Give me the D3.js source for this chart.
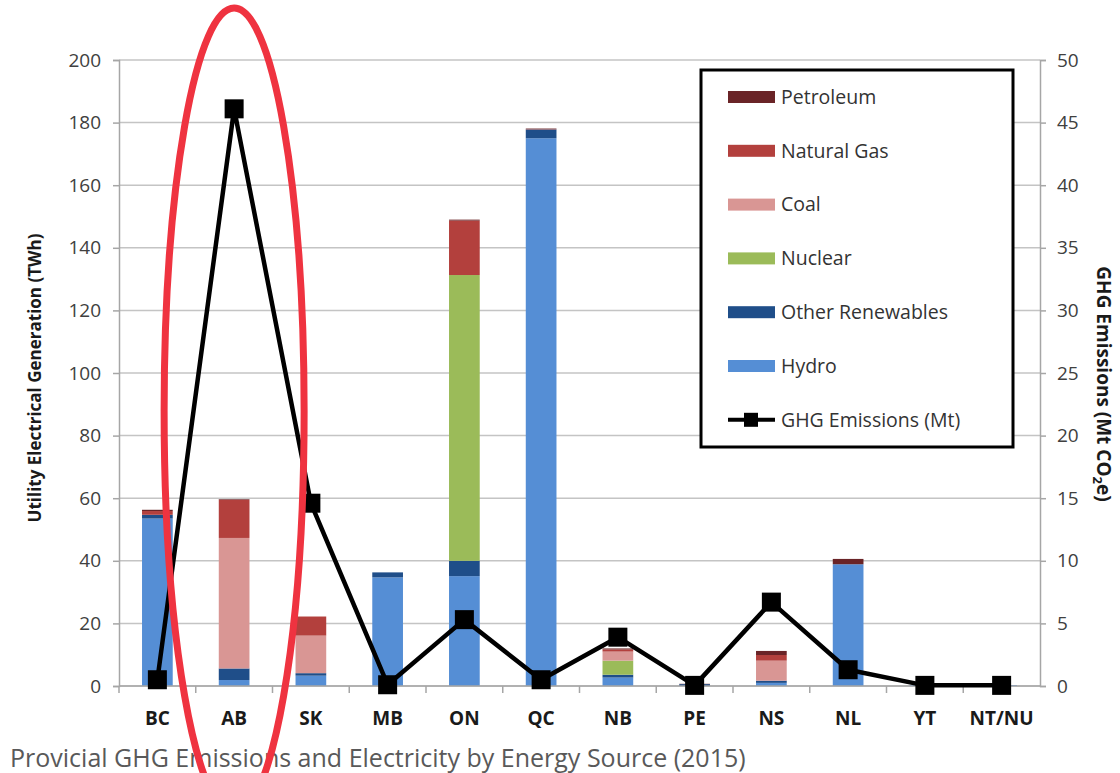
<!DOCTYPE html>
<html>
<head>
<meta charset="utf-8">
<script src="https://cdn.jsdelivr.net/npm/d3@7"></script>
<style>
  body { margin: 0; background: #fff; }
  svg { display: block; }
</style>
</head>
<body>
<div id="chart"></div>
<script>
// provinces and generation by source (TWh), emissions (Mt CO2e)
var provinces = ['BC', 'AB', 'SK', 'MB', 'ON', 'QC', 'NB', 'PE', 'NS', 'NL', 'YT', 'NT/NU'];
var hydro = [53.5, 1.9, 3.3, 34.7, 35.1, 175.0, 2.7, 0, 1.0, 38.9, 0.3, 0.3];
var otherRenewables = [1.2, 3.7, 0.8, 1.6, 4.9, 2.8, 0.9, 0.6, 0.7, 0, 0, 0];
var nuclear = [0, 0, 0, 0, 91.3, 0, 4.5, 0, 0, 0, 0, 0];
var coal = [0, 41.7, 12.0, 0, 0, 0, 2.9, 0, 6.4, 0, 0, 0];
var naturalGas = [1.2, 12.2, 6.1, 0, 17.4, 0.1, 0.7, 0, 1.8, 0, 0, 0];
var petroleum = [0.4, 0.2, 0, 0, 0.3, 0.2, 0.3, 0.1, 1.3, 1.7, 0, 0];
var ghgEmissions = [0.5, 46.1, 14.6, 0.1, 5.3, 0.5, 3.9, 0.05, 6.7, 1.3, 0.05, 0.05];

var leftTicks = [0, 20, 40, 60, 80, 100, 120, 140, 160, 180, 200];
var rightTicks = [0, 5, 10, 15, 20, 25, 30, 35, 40, 45, 50];

var sources = [
    {key: 'hydro', name: 'Hydro', values: hydro, color: '#558ed5'},
    {key: 'other', name: 'Other Renewables', values: otherRenewables, color: '#1f4e89'},
    {key: 'nuclear', name: 'Nuclear', values: nuclear, color: '#9bbb59'},
    {key: 'coal', name: 'Coal', values: coal, color: '#d99694'},
    {key: 'gas', name: 'Natural Gas', values: naturalGas, color: '#b3403d'},
    {key: 'petroleum', name: 'Petroleum', values: petroleum, color: '#6a2427'}
];

var width = 1120, height = 773;
var margin = {top: 60, right: 80, bottom: 87, left: 119};
var plotW = width - margin.left - margin.right;
var plotH = height - margin.top - margin.bottom;

var svg = d3.select('#chart').append('svg')
    .attr('width', width)
    .attr('height', height);

var g = svg.append('g')
    .attr('transform', 'translate(' + margin.left + ',' + margin.top + ')');

var x = d3.scaleBand().domain(provinces).range([0, plotW]).padding(0);
var y = d3.scaleLinear().domain([0, 200]).range([plotH, 0]);
var y2 = d3.scaleLinear().domain([0, 50]).range([plotH, 0]);
var barW = x.bandwidth() * 0.4;

// gridlines
g.append('g')
    .selectAll('line')
    .data(leftTicks)
    .join('line')
    .attr('x1', 0)
    .attr('x2', plotW)
    .attr('y1', function (d) { return y(d); })
    .attr('y2', function (d) { return y(d); })
    .attr('stroke', '#c4c4c4')
    .attr('stroke-width', 1.5);

// stacked bars
var table = provinces.map(function (p, i) {
    var row = {province: p};
    sources.forEach(function (s) { row[s.key] = s.values[i]; });
    return row;
});
var stacked = d3.stack().keys(sources.map(function (s) { return s.key; }))(table);

g.append('g')
    .selectAll('g')
    .data(stacked)
    .join('g')
    .attr('fill', function (d, i) { return sources[i].color; })
    .selectAll('rect')
    .data(function (d) { return d; })
    .join('rect')
    .attr('x', function (d) { return x(d.data.province) + (x.bandwidth() - barW) / 2; })
    .attr('width', barW)
    .attr('y', function (d) { return y(d[1]); })
    .attr('height', function (d) { return y(d[0]) - y(d[1]); });

// left axis
var leftAxis = g.append('g')
    .call(d3.axisLeft(y).tickValues(leftTicks).tickSize(6).tickPadding(12));
leftAxis.select('.domain').attr('stroke', '#a6a6a6').attr('stroke-width', 1.5);
leftAxis.selectAll('.tick line').attr('stroke', '#a6a6a6').attr('stroke-width', 1.5);
leftAxis.selectAll('.tick text')
    .attr('font-family', 'Open Sans, sans-serif')
    .attr('font-size', 19)
    .attr('fill', '#404040');

// right axis
var rightAxis = g.append('g')
    .attr('transform', 'translate(' + plotW + ',0)')
    .call(d3.axisRight(y2).tickValues(rightTicks).tickSize(6).tickPadding(11));
rightAxis.select('.domain').attr('stroke', '#a6a6a6').attr('stroke-width', 1.5);
rightAxis.selectAll('.tick line').attr('stroke', '#a6a6a6').attr('stroke-width', 1.5);
rightAxis.selectAll('.tick text')
    .attr('font-family', 'Open Sans, sans-serif')
    .attr('font-size', 19)
    .attr('fill', '#404040');

// category axis: ticks between categories
var bottom = g.append('g').attr('transform', 'translate(0,' + plotH + ')');
bottom.append('line')
    .attr('x1', 0).attr('x2', plotW)
    .attr('stroke', '#a6a6a6').attr('stroke-width', 1.5);
bottom.selectAll('line.sep')
    .data(provinces)
    .join('line')
    .attr('class', 'sep')
    .attr('x1', function (d) { return x(d); })
    .attr('x2', function (d) { return x(d); })
    .attr('y1', 0).attr('y2', 7)
    .attr('stroke', '#a6a6a6').attr('stroke-width', 1.5);
bottom.selectAll('text')
    .data(provinces)
    .join('text')
    .attr('x', function (d) { return x(d) + x.bandwidth() / 2; })
    .attr('y', 39)
    .attr('text-anchor', 'middle')
    .attr('font-family', 'Open Sans, sans-serif')
    .attr('font-weight', 'bold')
    .attr('font-size', 19)
    .attr('fill', '#1a1a1a')
    .text(function (d) { return d; });

// GHG line
var line = d3.line()
    .x(function (d, i) { return x(provinces[i]) + x.bandwidth() / 2; })
    .y(function (d) { return y2(d); });

g.append('path')
    .datum(ghgEmissions)
    .attr('fill', 'none')
    .attr('stroke', '#000')
    .attr('stroke-width', 4.5)
    .attr('stroke-linejoin', 'round')
    .attr('d', line);

var mk = 19;
g.append('g')
    .selectAll('rect')
    .data(ghgEmissions)
    .join('rect')
    .attr('x', function (d, i) { return x(provinces[i]) + x.bandwidth() / 2 - mk / 2; })
    .attr('y', function (d) { return y2(d) - mk / 2; })
    .attr('width', mk)
    .attr('height', mk)
    .attr('fill', '#000');

// axis titles
svg.append('text')
    .attr('transform', 'translate(41,' + (margin.top + plotH / 2 + 5) + ') rotate(-90)')
    .attr('text-anchor', 'middle')
    .attr('font-family', 'Open Sans, sans-serif')
    .attr('font-weight', 'bold')
    .attr('font-size', 17)
    .attr('fill', '#1a1a1a')
    .text('Utility Electrical Generation (TWh)');

var rt = svg.append('text')
    .attr('transform', 'translate(1097,' + 384 + ') rotate(90)')
    .attr('text-anchor', 'middle')
    .attr('font-family', 'Open Sans, sans-serif')
    .attr('font-weight', 'bold')
    .attr('font-size', 19)
    .attr('fill', '#1a1a1a');
rt.append('tspan').text('GHG Emissions (Mt CO');
rt.append('tspan').attr('font-size', 13).attr('dy', 4).text('2');
rt.append('tspan').attr('dy', -4).text('e)');

// legend
var legend = svg.append('g').attr('transform', 'translate(701,70)');
legend.append('rect')
    .attr('width', 312)
    .attr('height', 377)
    .attr('fill', '#fff')
    .attr('stroke', '#000')
    .attr('stroke-width', 3);

var legendItems = sources.slice().reverse();
var step = 53.8;
legendItems.forEach(function (s, i) {
    var cy = 27 + i * step;
    legend.append('rect')
        .attr('x', 27).attr('y', cy - 6)
        .attr('width', 47).attr('height', 12)
        .attr('fill', s.color);
    legend.append('text')
        .attr('x', 80).attr('y', cy)
        .attr('dy', '0.35em')
        .attr('font-family', 'Open Sans, sans-serif')
        .attr('font-size', 19.5)
        .attr('fill', '#333')
        .text(s.name);
});
var ly = 27 + legendItems.length * step;
legend.append('line')
    .attr('x1', 27).attr('x2', 74)
    .attr('y1', ly).attr('y2', ly)
    .attr('stroke', '#000').attr('stroke-width', 4);
legend.append('rect')
    .attr('x', 50 - 7).attr('y', ly - 7)
    .attr('width', 14).attr('height', 14)
    .attr('fill', '#000');
legend.append('text')
    .attr('x', 80).attr('y', ly)
    .attr('dy', '0.35em')
    .attr('font-family', 'Open Sans, sans-serif')
    .attr('font-size', 19.5)
    .attr('fill', '#333')
    .text('GHG Emissions (Mt)');

// caption
svg.append('text')
    .attr('x', 10).attr('y', 767)
    .attr('font-family', 'Open Sans, sans-serif')
    .attr('font-size', 25)
    .attr('fill', '#595959')
    .text('Provicial GHG Emissions and Electricity by Energy Source (2015)');

// red highlight ellipse around AB
svg.append('ellipse')
    .attr('cx', x('AB') + x.bandwidth() / 2 + margin.left)
    .attr('cy', 411)
    .attr('rx', 70)
    .attr('ry', 403)
    .attr('fill', 'none')
    .attr('stroke', '#ef3340')
    .attr('stroke-width', 7);
</script>
</body>
</html>
